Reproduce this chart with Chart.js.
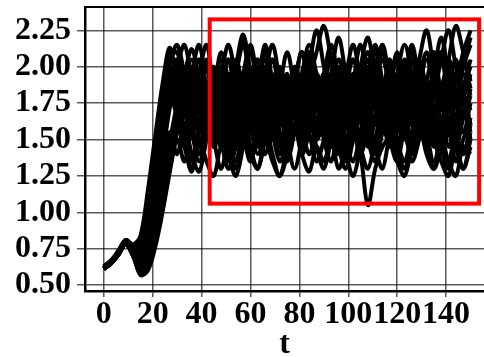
<!DOCTYPE html>
<html>
<head>
<meta charset="utf-8">
<script src="https://cdn.jsdelivr.net/npm/chart.js@4.4.0/dist/chart.umd.min.js"></script>
<style>
    html, body { margin: 0; padding: 0; background: white; }
    #wrap { width: 484px; height: 357px; }
</style>
</head>
<body>
<div id="wrap"><canvas id="myChart"></canvas></div>
<script>
// time samples shared by all trajectories
const tValues = [0, 3, 6, 9, 12, 15, 18, 21, 24, 27, 30, 33, 36, 39, 42, 45, 48, 51, 54, 57,
    60, 63, 66, 69, 72, 75, 78, 81, 84, 87, 90, 93, 96, 99, 102, 105, 108, 111, 114, 117,
    120, 123, 126, 129, 132, 135, 138, 141, 144, 147, 150];

// trajectories (approximate)
const run1 = [0.62, 0.66, 0.73, 0.81, 0.77, 0.80, 1.08, 1.45, 1.80, 2.12, 1.90,
    1.70, 1.95, 2.15, 1.85, 1.60, 1.85, 2.05, 1.75, 1.55, 1.80, 2.00, 1.70, 1.50, 1.75, 1.95, 1.65, 1.85, 2.10, 1.80, 1.55,
    1.75, 2.00, 1.70, 1.90, 2.15, 1.85, 1.60, 1.80, 2.05, 1.75, 1.55, 1.80, 2.00, 1.70, 1.90, 2.10, 1.80, 1.60, 1.85, 2.05];
const run2 = [0.63, 0.67, 0.73, 0.80, 0.76, 0.74, 0.98, 1.32, 1.70, 2.05, 2.10,
    1.85, 1.60, 1.80, 2.05, 1.80, 1.55, 1.70, 1.95, 2.20, 1.95, 1.70, 1.90, 1.65, 1.45, 1.70, 1.95, 1.75, 2.00, 2.25, 2.00,
    1.75, 1.95, 1.70, 1.50, 1.75, 2.00, 1.80, 1.60, 1.85, 2.10, 1.85, 2.05, 1.80, 1.60, 1.80, 2.05, 2.25, 2.00, 1.80, 1.95];
const run3 = [0.62, 0.66, 0.72, 0.80, 0.74, 0.67, 0.85, 1.15, 1.52, 1.88, 1.75,
    1.50, 1.30, 1.55, 1.75, 1.50, 1.30, 1.55, 1.80, 1.55, 1.35, 1.60, 1.85, 1.60, 1.40, 1.65, 1.85, 1.60, 1.40, 1.55, 1.80,
    1.60, 1.40, 1.60, 1.85, 1.65, 1.45, 1.65, 1.90, 1.65, 1.45, 1.60, 1.85, 1.65, 1.45, 1.70, 1.50, 1.35, 1.60, 1.80, 1.60];
const run4 = [0.61, 0.65, 0.72, 0.79, 0.73, 0.65, 0.80, 1.08, 1.42, 1.78, 2.00,
    1.80, 1.55, 1.75, 2.00, 1.75, 1.95, 2.15, 1.90, 1.65, 1.85, 2.05, 1.80, 1.60, 1.85, 2.10, 1.85, 1.65, 1.90, 2.10, 2.28,
    2.05, 1.80, 1.95, 2.15, 1.90, 1.70, 1.90, 2.10, 1.85, 1.65, 1.90, 2.15, 1.90, 1.70, 1.95, 2.20, 1.95, 1.75, 2.00, 2.20];
const run5 = [0.62, 0.66, 0.72, 0.80, 0.75, 0.70, 0.90, 1.22, 1.58, 1.92, 1.70,
    1.45, 1.65, 1.90, 1.65, 1.45, 1.70, 1.50, 1.30, 1.55, 1.75, 1.55, 1.75, 1.95, 1.70, 1.50, 1.70, 1.45, 1.65, 1.85, 1.60,
    1.45, 1.65, 1.85, 1.60, 1.40, 1.60, 1.80, 1.55, 1.75, 1.50, 1.35, 1.55, 1.75, 1.55, 1.70, 1.45, 1.30, 1.50, 1.70, 1.50];
const run6 = [0.62, 0.66, 0.72, 0.79, 0.71, 0.60, 0.64, 0.82, 1.08, 1.38, 1.62,
    1.45, 1.28, 1.50, 1.35, 1.25, 1.45, 1.30, 1.45, 1.60, 1.40, 1.30, 1.50, 1.35, 1.25, 1.45, 1.60, 1.40, 1.28, 1.45, 1.35,
    1.50, 1.30, 1.45, 1.60, 1.40, 1.05, 1.30, 1.45, 1.50, 1.35, 1.25, 1.45, 1.60, 1.40, 1.30, 1.50, 1.35, 1.25, 1.45, 1.40];
const run7 = [0.61, 0.65, 0.71, 0.78, 0.70, 0.57, 0.60, 0.76, 1.00, 1.28, 1.55,
    1.75, 1.55, 1.35, 1.55, 1.75, 1.50, 1.30, 1.50, 1.70, 1.45, 1.30, 1.50, 1.70, 1.50, 1.35, 1.55, 1.75, 1.55, 1.35, 1.50,
    1.70, 1.45, 1.30, 1.50, 1.70, 1.50, 1.35, 1.55, 1.70, 1.45, 1.30, 1.50, 1.70, 1.50, 1.30, 1.45, 1.65, 1.45, 1.30, 1.50];
const run8 = [0.62, 0.66, 0.71, 0.79, 0.72, 0.63, 0.70, 0.90, 1.18, 1.48, 1.75,
    1.95, 2.12, 1.90, 1.70, 1.90, 2.05, 1.80, 1.60, 1.80, 2.00, 1.75, 1.55, 1.75, 1.95, 1.75, 1.90, 2.10, 1.85, 1.65, 1.85,
    2.05, 1.80, 1.60, 1.80, 2.00, 1.75, 1.95, 2.15, 1.90, 1.70, 1.90, 2.10, 1.85, 1.65, 1.85, 2.05, 1.80, 1.65, 1.85, 2.00];
const run9 = [0.62, 0.66, 0.73, 0.81, 0.78, 0.84, 1.15, 1.52, 1.88, 2.13, 1.85,
    1.60, 1.85, 2.05, 1.80, 1.55, 1.75, 1.95, 1.70, 1.90, 2.10, 1.85, 1.60, 1.80, 2.00, 1.75, 1.55, 1.80, 2.05, 1.80, 1.95,
    1.70, 1.50, 1.75, 1.95, 1.70, 1.90, 2.10, 1.85, 1.60, 1.80, 2.00, 1.75, 1.55, 1.75, 1.95, 1.70, 1.85, 2.05, 1.80, 1.70];
const run10 = [0.62, 0.65, 0.72, 0.80, 0.74, 0.68, 0.88, 1.18, 1.55, 1.90, 2.05,
    1.80, 1.60, 1.45, 1.70, 1.90, 1.65, 1.45, 1.65, 1.85, 1.60, 1.40, 1.60, 1.80, 1.55, 1.40, 1.60, 1.80, 2.00, 1.75, 1.55,
    1.75, 1.55, 1.35, 1.55, 1.80, 1.60, 1.40, 1.60, 1.80, 1.55, 1.75, 1.95, 1.70, 1.50, 1.65, 1.85, 1.60, 1.45, 1.65, 1.85];
const run11 = [0.61, 0.65, 0.71, 0.78, 0.70, 0.59, 0.63, 0.80, 1.05, 1.32, 1.58,
    1.80, 2.00, 1.75, 1.55, 1.75, 1.95, 1.70, 1.50, 1.70, 1.90, 1.65, 1.85, 2.05, 1.80, 1.60, 1.80, 1.60, 1.75, 1.95, 1.70,
    1.50, 1.70, 1.90, 1.65, 1.85, 2.05, 1.80, 1.60, 1.75, 1.95, 1.70, 1.50, 1.70, 1.90, 1.65, 1.80, 2.00, 1.75, 1.55, 1.75];
const run12 = [0.62, 0.66, 0.72, 0.79, 0.73, 0.66, 0.82, 1.10, 1.45, 1.80, 1.65,
    1.45, 1.65, 1.85, 1.60, 1.80, 1.55, 1.35, 1.55, 1.75, 1.95, 1.70, 1.50, 1.70, 1.45, 1.65, 1.85, 1.60, 1.40, 1.60, 1.80,
    1.55, 1.75, 1.50, 1.35, 1.55, 1.75, 1.95, 1.70, 1.50, 1.70, 1.50, 1.70, 1.90, 1.65, 1.45, 1.60, 1.80, 1.55, 1.40, 1.60];
const run13 = [0.63, 0.67, 0.74, 0.81, 0.77, 0.76, 1.02, 1.38, 1.75, 2.02, 2.15,
    1.95, 1.75, 1.95, 2.15, 1.90, 2.10, 1.90, 1.70, 1.95, 2.15, 1.95, 2.15, 1.90, 1.70, 1.90, 1.75, 1.95, 2.15, 1.95, 1.75,
    1.95, 2.20, 1.95, 1.75, 2.00, 2.20, 1.95, 1.80, 2.00, 1.85, 2.05, 1.85, 2.05, 2.25, 2.00, 1.85, 2.05, 1.90, 2.10, 2.25];
const run14 = [0.62, 0.66, 0.72, 0.79, 0.72, 0.61, 0.66, 0.86, 1.12, 1.42, 1.68,
    1.50, 1.35, 1.60, 1.80, 1.55, 1.75, 1.55, 1.35, 1.55, 1.40, 1.60, 1.80, 1.55, 1.35, 1.50, 1.70, 1.50, 1.65, 1.45, 1.30,
    1.50, 1.70, 1.50, 1.65, 1.45, 1.30, 1.50, 1.70, 1.50, 1.35, 1.55, 1.40, 1.60, 1.80, 1.55, 1.40, 1.55, 1.35, 1.50, 1.65];
const run15 = [0.62, 0.66, 0.72, 0.80, 0.75, 0.71, 0.93, 1.26, 1.62, 1.95, 1.80,
    1.95, 1.75, 1.55, 1.80, 2.00, 1.75, 1.90, 1.70, 1.50, 1.70, 1.90, 2.10, 1.85, 1.65, 1.85, 1.65, 1.85, 2.05, 1.80, 1.60,
    1.85, 1.65, 1.85, 2.05, 1.80, 1.65, 1.85, 1.65, 1.85, 2.05, 1.80, 1.65, 1.85, 2.05, 1.85, 1.65, 1.80, 1.95, 1.75, 1.60];
const run16 = [0.61, 0.65, 0.71, 0.79, 0.72, 0.64, 0.72, 0.95, 1.24, 1.55, 1.40,
    1.60, 1.40, 1.28, 1.50, 1.70, 1.45, 1.65, 1.85, 1.60, 1.40, 1.60, 1.80, 1.55, 1.70, 1.50, 1.30, 1.50, 1.70, 1.50, 1.65,
    1.85, 1.60, 1.45, 1.65, 1.85, 1.60, 1.40, 1.60, 1.45, 1.65, 1.85, 1.60, 1.75, 1.55, 1.35, 1.55, 1.75, 1.55, 1.40, 1.55];
const run17 = [0.62, 0.66, 0.72, 0.80, 0.74, 0.69, 0.86, 1.14, 1.48, 1.82, 2.00,
    2.15, 1.90, 1.70, 1.90, 1.70, 1.55, 1.75, 2.00, 2.22, 1.95, 1.75, 1.95, 2.15, 1.90, 1.70, 1.95, 1.75, 1.55, 1.75, 1.95,
    2.15, 1.90, 1.70, 1.90, 1.70, 1.90, 2.15, 1.90, 1.70, 1.95, 2.15, 1.95, 1.75, 1.90, 2.10, 1.85, 2.05, 2.28, 2.10, 1.90];
const run18 = [0.62, 0.66, 0.72, 0.79, 0.71, 0.58, 0.61, 0.78, 1.02, 1.30, 1.50,
    1.35, 1.55, 1.40, 1.60, 1.80, 1.60, 1.40, 1.25, 1.45, 1.65, 1.45, 1.60, 1.40, 1.25, 1.40, 1.60, 1.40, 1.55, 1.75, 1.50,
    1.35, 1.55, 1.40, 1.25, 1.45, 1.65, 1.45, 1.30, 1.50, 1.40, 1.55, 1.35, 1.50, 1.70, 1.50, 1.35, 1.25, 1.45, 1.30, 1.45];
const run19 = [0.62, 0.66, 0.72, 0.80, 0.75, 0.72, 0.95, 1.30, 1.66, 1.98, 1.85,
    1.65, 1.85, 1.60, 1.80, 1.95, 1.70, 1.85, 1.60, 1.75, 1.95, 1.70, 1.85, 1.65, 1.80, 1.60, 1.80, 1.95, 1.70, 1.85, 1.65,
    1.80, 1.60, 1.75, 1.95, 1.75, 1.60, 1.80, 1.65, 1.85, 1.70, 1.90, 1.70, 1.55, 1.75, 1.90, 1.70, 1.85, 1.65, 1.80, 1.70];
const run20 = [0.61, 0.65, 0.72, 0.79, 0.73, 0.66, 0.78, 1.04, 1.38, 1.72, 1.95,
    1.75, 1.55, 1.75, 1.60, 1.80, 1.60, 1.75, 1.95, 1.70, 1.55, 1.75, 1.60, 1.80, 1.95, 1.75, 1.55, 1.70, 1.55, 1.75, 1.90,
    1.70, 1.85, 1.65, 1.50, 1.70, 1.90, 1.70, 1.55, 1.75, 1.60, 1.80, 1.60, 1.75, 1.90, 1.70, 1.50, 1.70, 1.85, 1.65, 1.80];
const run21 = [0.62, 0.66, 0.73, 0.80, 0.76, 0.75, 1.00, 1.35, 1.72, 2.00, 1.80,
    1.55, 1.75, 1.90, 1.70, 1.55, 1.75, 1.95, 1.75, 1.90, 1.70, 1.50, 1.70, 1.90, 1.75, 1.60, 1.80, 1.95, 1.75, 1.60, 1.80,
    1.95, 1.75, 1.90, 1.70, 1.55, 1.70, 1.90, 1.75, 1.55, 1.75, 1.95, 1.75, 1.60, 1.80, 1.65, 1.85, 1.70, 1.90, 1.75, 1.60];
const run22 = [0.62, 0.66, 0.72, 0.79, 0.72, 0.62, 0.68, 0.88, 1.15, 1.45, 1.72,
    1.90, 1.70, 1.85, 1.65, 1.85, 2.00, 1.80, 1.65, 1.85, 1.70, 1.90, 2.05, 1.85, 1.70, 1.90, 1.75, 1.60, 1.80, 1.95, 1.80,
    1.65, 1.85, 2.00, 1.80, 1.65, 1.85, 2.05, 1.85, 1.70, 1.90, 1.75, 1.90, 2.05, 1.85, 1.70, 1.85, 1.70, 1.90, 2.05, 1.85];
const run23 = [0.62, 0.65, 0.71, 0.79, 0.71, 0.60, 0.65, 0.84, 1.10, 1.40, 1.65,
    1.80, 1.60, 1.45, 1.65, 1.80, 1.60, 1.45, 1.65, 1.50, 1.70, 1.85, 1.65, 1.50, 1.70, 1.55, 1.70, 1.50, 1.65, 1.80, 1.60,
    1.45, 1.60, 1.75, 1.55, 1.70, 1.50, 1.65, 1.80, 1.60, 1.45, 1.65, 1.50, 1.70, 1.85, 1.60, 1.45, 1.60, 1.75, 1.55, 1.65];
const run24 = [0.63, 0.67, 0.73, 0.81, 0.77, 0.78, 1.05, 1.42, 1.78, 2.08, 1.95,
    1.75, 1.95, 1.80, 2.00, 1.80, 1.65, 1.85, 2.05, 1.85, 1.70, 1.85, 2.00, 1.80, 1.95, 1.75, 1.90, 2.10, 1.85, 1.70, 1.90,
    1.75, 1.95, 1.80, 1.65, 1.85, 1.70, 1.90, 2.05, 1.85, 1.70, 1.90, 1.75, 1.95, 1.80, 1.65, 1.85, 2.00, 1.80, 1.95, 1.80];
const run25 = [0.62, 0.66, 0.72, 0.80, 0.74, 0.68, 0.87, 1.16, 1.50, 1.85, 1.70,
    1.50, 1.70, 1.55, 1.75, 1.60, 1.45, 1.65, 1.80, 1.60, 1.75, 1.55, 1.40, 1.60, 1.75, 1.55, 1.70, 1.50, 1.65, 1.80, 1.60,
    1.75, 1.55, 1.40, 1.60, 1.75, 1.60, 1.45, 1.65, 1.50, 1.70, 1.55, 1.40, 1.60, 1.75, 1.55, 1.65, 1.45, 1.60, 1.75, 1.55];
const run26 = [0.61, 0.65, 0.71, 0.78, 0.70, 0.58, 0.62, 0.80, 1.06, 1.36, 1.60,
    1.85, 2.05, 1.85, 1.65, 1.85, 2.00, 1.80, 1.95, 2.15, 1.90, 1.75, 1.95, 1.80, 1.60, 1.80, 2.00, 1.85, 2.05, 1.85, 1.65,
    1.85, 2.05, 1.90, 1.75, 1.95, 2.10, 1.90, 1.70, 1.90, 2.05, 1.85, 1.70, 1.90, 2.10, 1.90, 1.75, 1.95, 1.80, 2.00, 2.15];
const runs = [run1, run2, run3, run4, run5, run6, run7, run8, run9, run10, run11, run12, run13,
    run14, run15, run16, run17, run18, run19, run20, run21, run22, run23, run24, run25, run26];

// axis ticks
const xTicks = [0, 20, 40, 60, 80, 100, 120, 140];
const yTicks = [0.50, 0.75, 1.00, 1.25, 1.50, 1.75, 2.00, 2.25];
const xRange = [-7.7, 155.5];
const yRange = [0.46, 2.41];
// highlighted region [t0, y0, t1, y1]
const boxRegion = [43.3, 1.06, 153.5, 2.325];

const tickFont = { family: 'Liberation Serif', size: 32, weight: 'bold', lineHeight: 1.0 };

const framePlugin = {
    id: 'framePlugin',
    beforeDatasetsDraw(chart) {
        const c = chart.ctx, a = chart.chartArea;
        c.save();
        c.strokeStyle = 'black';
        c.lineWidth = 2;
        c.beginPath();
        c.moveTo(a.left, a.top);
        c.lineTo(a.right, a.top);
        c.stroke();
        c.restore();
    },
    afterDatasetsDraw(chart) {
        const c = chart.ctx;
        const xs = chart.scales.x, ys = chart.scales.y;
        const x0 = xs.getPixelForValue(boxRegion[0]);
        const y0 = ys.getPixelForValue(boxRegion[1]);
        const x1 = xs.getPixelForValue(boxRegion[2]);
        const y1 = ys.getPixelForValue(boxRegion[3]);
        c.save();
        c.strokeStyle = '#ff0000';
        c.lineWidth = 4;
        c.strokeRect(x0, y1, x1 - x0, y0 - y1);
        c.restore();
    }
};

var datasets = [];
for (let i = 0; i < runs.length; i++) {
    let pts = [];
    for (let j = 0; j < Math.min(tValues.length, runs[i].length); j++) {
        pts.push({ x: tValues[j], y: runs[i][j] });
    }
    datasets.push({
        data: pts,
        borderColor: 'black',
        borderWidth: 4,
        pointRadius: 0,
        tension: 0.35,
        fill: false
    });
}

var ctx = document.getElementById('myChart');
var chart = new Chart(ctx, {
    type: 'line',
    data: { datasets: datasets },
    options: {
        responsive: true,
        maintainAspectRatio: false,
        animation: false,
        layout: { padding: { left: 9, top: 7, right: 0, bottom: 0 } },
        plugins: {
            legend: { display: false },
            tooltip: { enabled: false }
        },
        scales: {
            x: {
                type: 'linear',
                min: xRange[0],
                max: xRange[1],
                afterBuildTicks: (scale) => { scale.ticks = xTicks.map(v => ({ value: v })); },
                ticks: { autoSkip: false, maxRotation: 0, color: 'black', font: tickFont, padding: 2 },
                grid: { color: 'rgba(0,0,0,0.65)', lineWidth: 1.5, tickLength: 6 },
                border: { color: 'black', width: 2.5 },
                title: {
                    display: true, text: 't', color: 'black',
                    font: { family: 'Liberation Serif', size: 32, weight: 'bold', lineHeight: 0.75 },
                    padding: 0
                }
            },
            y: {
                type: 'linear',
                min: yRange[0],
                max: yRange[1],
                afterBuildTicks: (scale) => { scale.ticks = yTicks.map(v => ({ value: v })); },
                afterFit: (scale) => { scale.paddingTop = 0; scale.paddingBottom = 0; },
                ticks: {
                    color: 'black', font: tickFont, padding: 6,
                    callback: (v) => Number(v).toFixed(2)
                },
                grid: { color: 'rgba(0,0,0,0.65)', lineWidth: 1.5, tickLength: 8 },
                border: { color: 'black', width: 2.5 }
            }
        }
    },
    plugins: [framePlugin]
});
</script>
</body>
</html>
